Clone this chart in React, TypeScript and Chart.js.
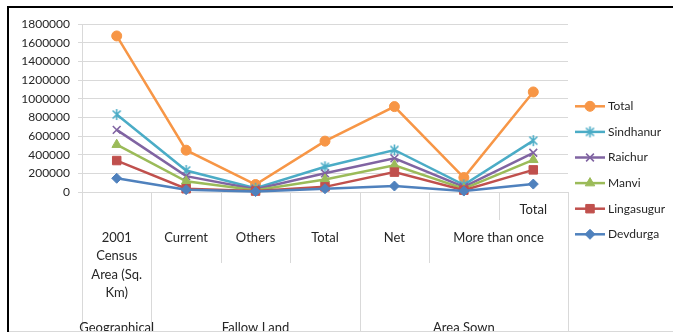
import React, { useEffect, useRef } from 'react';
import { Chart, registerables } from 'chart.js';
import { drawPoint } from 'chart.js/helpers';

Chart.register(...registerables);

// Land-use categories of the district (one point per category)
const CATEGORY_KEYS = [
  'Geographical Area',
  'Fallow Current',
  'Fallow Others',
  'Fallow Total',
  'Sown Net',
  'Sown More than once',
  'Sown Total',
];

// Innermost axis level, one entry per category
const LEVEL_1: string[][] = [[], [], [], [], [], [], ['Total']];

// Middle axis level, grouped over category index ranges
const LEVEL_2 = [
  { lines: ['2001', 'Census', 'Area (Sq.', 'Km)'], from: 0, to: 0 },
  { lines: ['Current'], from: 1, to: 1 },
  { lines: ['Others'], from: 2, to: 2 },
  { lines: ['Total'], from: 3, to: 3 },
  { lines: ['Net'], from: 4, to: 4 },
  { lines: ['More than once'], from: 5, to: 6 },
];

// Outer axis level
const LEVEL_3 = [
  { lines: ['Geographical'], from: 0, to: 0 },
  { lines: ['Fallow Land'], from: 1, to: 3 },
  { lines: ['Area Sown'], from: 4, to: 6 },
];

const Y_TICKS = [0, 200000, 400000, 600000, 800000, 1000000, 1200000, 1400000, 1600000, 1800000];

// Taluk values (stacked on the chart)
const DEVDURGA = [147000, 25000, 5000, 35000, 64000, 10000, 85000];
const LINGASUGUR = [190000, 10000, 5000, 20000, 149000, 10000, 152000];
const MANVI = [170000, 80000, 10000, 80000, 74000, 15000, 108000];
const RAICHUR = [159000, 55000, 10000, 65000, 73000, 20000, 75000];
const SINDHANUR = [164000, 60000, 10000, 70000, 90000, 22000, 130000];
const TOTAL = [842000, 218000, 40000, 275000, 465000, 78000, 522000];

const FONT = 'Lato, "Open Sans", sans-serif';
const TEXT = '#262626';
const RULE = '#d9d9d9';

// Asterisk marker: diagonal cross plus a vertical stroke
function makeAsterisk(color: string): HTMLCanvasElement {
  const c = document.createElement('canvas');
  c.width = 13;
  c.height = 13;
  const g = c.getContext('2d')!;
  g.strokeStyle = color;
  g.lineWidth = 1.6;
  g.beginPath();
  g.moveTo(2.5, 2.5);
  g.lineTo(10.5, 10.5);
  g.moveTo(10.5, 2.5);
  g.lineTo(2.5, 10.5);
  g.moveTo(6.5, 1);
  g.lineTo(6.5, 12);
  g.stroke();
  return c;
}

function makeSeries() {
  const base = (label: string, data: number[], color: string, pointStyle: any, radius: number, pbw = 1) => ({
    label,
    data,
    borderColor: color,
    backgroundColor: color,
    pointBackgroundColor: color,
    pointBorderColor: color,
    pointBorderWidth: pbw,
    borderWidth: 2.5,
    pointStyle,
    pointRadius: radius,
    tension: 0,
    fill: false,
    clip: false as const,
  });
  return [
    base('Devdurga', DEVDURGA, '#4F81BD', 'rectRot', 5),
    base('Lingasugur', LINGASUGUR, '#C0504D', 'rect', 6),
    base('Manvi', MANVI, '#9BBB59', 'triangle', 5.5),
    base('Raichur', RAICHUR, '#8064A2', 'crossRot', 5.5, 1.6),
    base('Sindhanur', SINDHANUR, '#4BACC6', makeAsterisk('#4BACC6'), 6),
    base('Total', TOTAL, '#F79646', 'circle', 5),
  ];
}

const groupOf = (groups: { from: number; to: number }[], i: number) =>
  groups.findIndex((g) => i >= g.from && i <= g.to);

const decorPlugin = {
  id: 'decor',
  afterDraw(chart: any) {
    const { ctx, chartArea, scales, width, height } = chart;
    const xs = scales.x;
    const n = CATEGORY_KEYS.length;
    const band = (chartArea.right - chartArea.left) / n;
    const edge = (i: number) => chartArea.left + band * i;

    ctx.save();

    // category dividers below the axis
    ctx.strokeStyle = RULE;
    ctx.lineWidth = 1;
    for (let i = 0; i <= n; i++) {
      let bottom: number;
      if (i === 0 || i === n || groupOf(LEVEL_3, i - 1) !== groupOf(LEVEL_3, i)) bottom = height;
      else if (groupOf(LEVEL_2, i - 1) !== groupOf(LEVEL_2, i)) bottom = 263;
      else bottom = 220;
      const px = Math.round(edge(i)) + 0.5;
      ctx.beginPath();
      ctx.moveTo(px, chartArea.bottom);
      ctx.lineTo(px, bottom);
      ctx.stroke();
    }

    // category labels
    ctx.fillStyle = TEXT;
    ctx.font = `13px ${FONT}`;
    ctx.textAlign = 'center';
    ctx.textBaseline = 'middle';
    LEVEL_1.forEach((lines, i) => {
      const cx = xs.getPixelForValue(i);
      lines.forEach((t, k) => ctx.fillText(t, cx, 210 + k * 18.3));
    });
    LEVEL_2.forEach((g) => {
      const cx = (edge(g.from) + edge(g.to + 1)) / 2;
      g.lines.forEach((t, k) => ctx.fillText(t, cx, 238 + k * 18.3));
    });
    LEVEL_3.forEach((g) => {
      const cx = (edge(g.from) + edge(g.to + 1)) / 2;
      g.lines.forEach((t, k) => ctx.fillText(t, cx, 328 + k * 18.3));
    });

    // legend, top series first
    const metas = chart.data.datasets.slice().reverse();
    metas.forEach((ds: any, k: number) => {
      const y = 106.3 + k * 25.6;
      ctx.strokeStyle = ds.borderColor;
      ctx.lineWidth = 2.5;
      ctx.beginPath();
      ctx.moveTo(575, y);
      ctx.lineTo(605, y);
      ctx.stroke();
      ctx.fillStyle = ds.pointBackgroundColor;
      ctx.strokeStyle = ds.pointBorderColor;
      ctx.lineWidth = ds.pointBorderWidth;
      drawPoint(ctx, { pointStyle: ds.pointStyle, radius: ds.pointRadius, rotation: 0, borderWidth: ds.pointBorderWidth } as any, 590, y);
      ctx.fillStyle = TEXT;
      ctx.font = `12px ${FONT}`;
      ctx.textAlign = 'left';
      ctx.textBaseline = 'middle';
      ctx.fillText(ds.label, 608, y);
    });

    // outer frame
    ctx.fillStyle = '#000';
    ctx.fillRect(7, 6, width - 7, 2);
    ctx.fillRect(7, 6, 2, height - 6);
    ctx.fillStyle = RULE;
    ctx.fillRect(9, height - 1, width - 9, 1);

    ctx.restore();
  },
};

export default function App() {
  const ref = useRef<HTMLCanvasElement>(null);

  useEffect(() => {
    if (!ref.current) return;
    const chart = new Chart(ref.current, {
      type: 'line',
      data: { labels: CATEGORY_KEYS, datasets: makeSeries() as any },
      options: {
        animation: false,
        responsive: false,
        devicePixelRatio: 1,
        layout: { padding: { left: 10, top: 24, right: 105, bottom: 0 } },
        plugins: { legend: { display: false }, tooltip: { enabled: false } },
        scales: {
          x: {
            offset: true,
            grid: { display: false },
            border: { display: false },
            ticks: { display: false },
            afterFit: (s: any) => {
              s.height = 140;
            },
          },
          y: {
            stacked: true,
            min: 0,
            max: 1800000,
            grid: { color: RULE, lineWidth: 1, tickLength: 4 },
            border: { display: true, color: RULE, width: 1 },
            ticks: {
              color: TEXT,
              font: { family: FONT, size: 12 },
              padding: 8,
              callback: (v: any) => String(v),
            },
            afterBuildTicks: (s: any) => {
              s.ticks = Y_TICKS.map((value) => ({ value }));
            },
            afterFit: (s: any) => {
              s.width = 72;
            },
          },
        },
      },
      plugins: [decorPlugin],
    });
    return () => chart.destroy();
  }, []);

  return (
    <div style={{ position: 'absolute', left: 0, top: 0, width: 673, height: 332, background: '#fff' }}>
      <canvas ref={ref} width={673} height={332} style={{ display: 'block' }} />
    </div>
  );
}
